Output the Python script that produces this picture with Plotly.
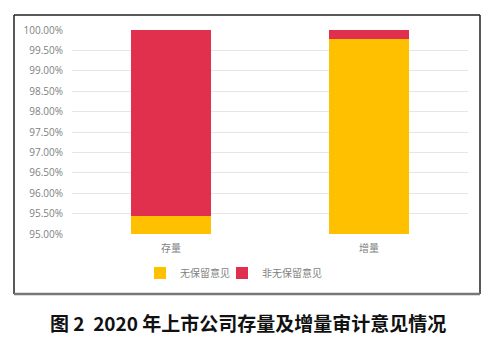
import plotly.graph_objects as go

categories = ["存量", "增量"]
unqualified = [0.9544, 0.9978]
non_unqualified = [0.0456, 0.0022]
series_names = ["无保留意见", "非无保留意见"]
caption = "图 2  2020 年上市公司存量及增量审计意见情况"

W, H = 503, 339
L, R, T, B = 72, 35, 30, 105
pw = W - L - R
ph = H - T - B

def px(x):
    return (x - L) / pw

def py(y):
    return (H - B - y) / ph

fig = go.Figure()
fig.add_trace(go.Bar(x=categories, y=unqualified, name=series_names[0], legend="legend",
                     marker=dict(color="#FFC000", line=dict(width=0))))
fig.add_trace(go.Bar(x=categories, y=non_unqualified, name=series_names[1], legend="legend2",
                     marker=dict(color="#E0304E", line=dict(width=0))))

cjk = "Noto Sans CJK SC"
leg_common = dict(orientation="h", xanchor="left", y=py(273), yanchor="middle",
                  font=dict(family=cjk, size=10, color="#7f7f7f"),
                  itemwidth=30, bgcolor="rgba(0,0,0,0)", borderwidth=0)
fig.update_layout(
    width=W, height=H,
    margin=dict(l=L, r=R, t=T, b=B),
    barmode="stack", bargap=0.6,
    paper_bgcolor="white", plot_bgcolor="white",
    showlegend=True,
    legend=dict(x=px(140), **leg_common),
    legend2=dict(x=px(222), **leg_common),
    xaxis=dict(showgrid=False, showline=False, ticks="", ticklabelstandoff=7,
               tickfont=dict(family=cjk, size=10, color="#7f7f7f")),
    yaxis=dict(range=[0.95, 1.0], dtick=0.005, tickformat=".2%",
               showgrid=True, gridcolor="#e6e6e6", gridwidth=1,
               zeroline=False, showline=False, ticks="", ticklabelstandoff=8,
               tickfont=dict(family="Open Sans", size=10, color="#7f7f7f")),
    hovermode=False,
    font=dict(family=cjk),
)

# frame around chart
x0, x1, y0, y1 = px(14), px(480), py(15), py(294)
fig.add_shape(type="line", xref="paper", yref="paper", x0=x0, x1=x1, y0=y0, y1=y0,
              line=dict(color="#222222", width=1.5))
fig.add_shape(type="line", xref="paper", yref="paper", x0=x0, x1=x0, y0=y0, y1=y1,
              line=dict(color="#222222", width=1.5))
fig.add_shape(type="line", xref="paper", yref="paper", x0=x1, x1=x1, y0=y0, y1=y1,
              line=dict(color="#222222", width=1.5))
fig.add_shape(type="line", xref="paper", yref="paper", x0=x0, x1=x1, y0=y1, y1=y1,
              line=dict(color="#777777", width=2.5))

fig.add_annotation(text="<b>" + caption + "</b>", xref="paper", yref="paper",
                   x=px(248), y=py(322), xanchor="center", yanchor="middle",
                   showarrow=False, font=dict(family=cjk, size=19, color="#111111"))

fig.write_html("out.html")
